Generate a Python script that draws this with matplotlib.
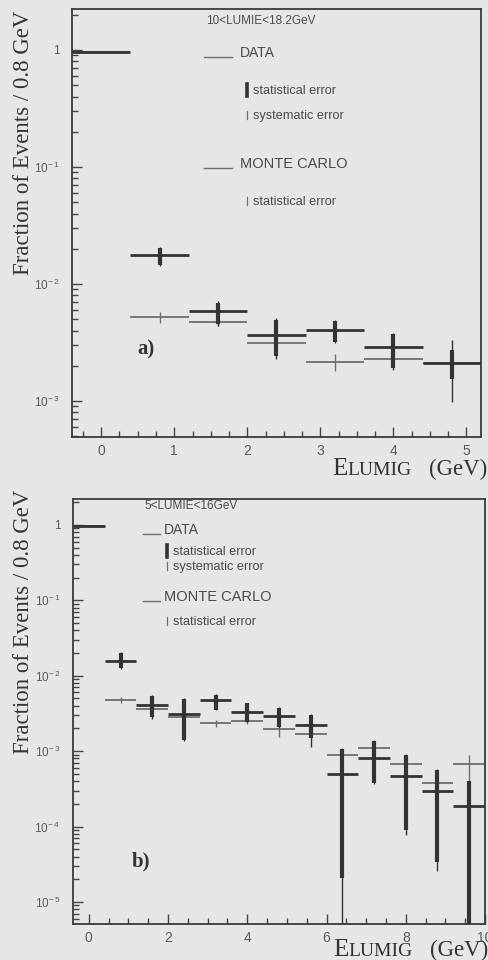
import matplotlib
matplotlib.use("Agg")
import matplotlib.pyplot as plt
import numpy as np
from matplotlib.lines import Line2D
from matplotlib.offsetbox import TextArea, HPacker, AnchoredOffsetbox
from matplotlib.ticker import FixedLocator, FixedFormatter, LogLocator, MultipleLocator, NullFormatter

plt.rcParams['mathtext.fontset'] = 'custom'
plt.rcParams['mathtext.rm'] = 'Liberation Sans'
plt.rcParams['mathtext.it'] = 'Liberation Sans'
plt.rcParams['mathtext.default'] = 'rm'

# ---------------- data ----------------
BIN_W = 0.8

# panel a) 10 < LUMIE < 18.2 GeV
centers_a = [0.0, 0.8, 1.6, 2.4, 3.2, 4.0, 4.8]
data_a    = [0.97, 1.77e-2, 5.9e-3, 3.66e-3, 4.05e-3, 2.9e-3, 2.1e-3]
stat_lo_a = [0.96, 1.45e-2, 4.55e-3, 2.4e-3, 3.2e-3, 1.9e-3, 1.53e-3]
stat_hi_a = [0.98, 2.03e-2, 6.9e-3, 4.9e-3, 4.8e-3, 3.7e-3, 2.73e-3]
sys_lo_a  = [0.96, 1.42e-2, 4.4e-3, 2.3e-3, 3.1e-3, 1.85e-3, 0.98e-3]
sys_hi_a  = [0.98, 2.08e-2, 7.1e-3, 5.1e-3, 4.9e-3, 3.8e-3, 3.3e-3]
mc_a      = [0.955, 5.2e-3, 4.7e-3, 3.13e-3, 2.15e-3, 2.28e-3, 2.1e-3]
mc_lo_a   = [0.95, 4.65e-3, 4.4e-3, 2.9e-3, 1.8e-3, 2.05e-3, 1.9e-3]
mc_hi_a   = [0.96, 5.8e-3, 5.0e-3, 3.4e-3, 2.5e-3, 2.5e-3, 2.3e-3]

# panel b) 5 < LUMIE < 16 GeV
centers_b = [0.0, 0.8, 1.6, 2.4, 3.2, 4.0, 4.8, 5.6, 6.4, 7.2, 8.0, 8.8, 9.6]
data_b    = [0.97, 1.58e-2, 4.1e-3, 3.1e-3, 4.7e-3, 3.3e-3, 2.95e-3, 2.2e-3,
             5.0e-4, 8.2e-4, 4.7e-4, 2.95e-4, 1.87e-4]
stat_lo_b = [0.96, 1.26e-2, 2.8e-3, 1.4e-3, 3.55e-3, 2.45e-3, 2.1e-3, 1.5e-3,
             2.1e-5, 3.8e-4, 8.9e-5, 3.4e-5, 1e-7]
stat_hi_b = [0.98, 2.0e-2, 5.4e-3, 4.9e-3, 5.6e-3, 4.3e-3, 3.7e-3, 3.0e-3,
             1.07e-3, 1.35e-3, 8.9e-4, 5.6e-4, 4.0e-4]
sys_lo_b  = [0.96, 1.24e-2, 2.7e-3, 1.35e-3, 3.5e-3, 2.4e-3, 2.05e-3, 1.15e-3,
             1e-7, 3.7e-4, 7.8e-5, 2.6e-5, 1e-7]
sys_hi_b  = [0.98, 2.05e-2, 5.5e-3, 5.0e-3, 5.7e-3, 4.4e-3, 3.8e-3, 3.1e-3,
             1.1e-3, 1.4e-3, 9.2e-4, 5.8e-4, 4.0e-4]
mc_b      = [0.955, 4.8e-3, 3.6e-3, 2.8e-3, 2.35e-3, 2.54e-3, 1.96e-3, 1.7e-3,
             8.9e-4, 1.11e-3, 6.7e-4, 3.8e-4, 6.7e-4]
mc_lo_b   = [0.95, 4.4e-3, 3.3e-3, 2.55e-3, 2.1e-3, 2.3e-3, 1.55e-3, 1.55e-3,
             8.0e-4, 1.0e-3, 6.0e-4, 3.4e-4, 4.0e-4]
mc_hi_b   = [0.96, 5.2e-3, 3.9e-3, 3.05e-3, 2.6e-3, 2.8e-3, 2.2e-3, 1.85e-3,
             9.8e-4, 1.22e-3, 7.4e-4, 4.2e-4, 8.9e-4]

# ---------------- style ----------------
W, H = 489, 960
BG = '#e5e6e7'
INK = '#333333'
MC_INK = '#6e6e6e'
LEG_INK = '#4a4a4a'
TICK_INK = '#5a5a5a'
SERIF = 'Liberation Serif'
SANS = 'Liberation Sans'

fig = plt.figure(figsize=(W / 100, H / 100), dpi=100, facecolor=BG)


def fx(x):
    return x / W


def fy(y):
    return 1 - y / H


def axes_px(left, top, right, bottom):
    return fig.add_axes([fx(left), fy(bottom), (right - left) / W, (bottom - top) / H])


def draw_panel(ax, centers, data, slo, shi, ylo, yhi, mc, mlo, mhi):
    c = np.asarray(centers)
    ax.hlines(mc, c - BIN_W / 2, c + BIN_W / 2, color=MC_INK, lw=1.3, zorder=2)
    ax.vlines(c, mlo, mhi, color=MC_INK, lw=1.0, zorder=2)
    ax.hlines(data, c - BIN_W / 2, c + BIN_W / 2, color=INK, lw=2.0, zorder=3)
    ax.vlines(c, ylo, yhi, color=INK, lw=1.0, zorder=3)
    ax.vlines(c, slo, shi, color=INK, lw=3.0, zorder=4)


def style_axes(ax, xlim, ylim, xmajor, xminor, decades):
    ax.set_facecolor(BG)
    ax.set_xlim(*xlim)
    ax.set_yscale('log')
    ax.set_ylim(*ylim)
    for s in ax.spines.values():
        s.set_color('#3a3a3a')
        s.set_linewidth(1.3)
    ax.xaxis.set_major_locator(MultipleLocator(xmajor))
    ax.xaxis.set_minor_locator(MultipleLocator(xminor))
    ax.yaxis.set_major_locator(FixedLocator([10.0 ** d for d in decades]))
    ax.yaxis.set_major_formatter(FixedFormatter(
        ['1' if d == 0 else r'$10^{\!%d}$' % d for d in decades]))
    ax.yaxis.set_minor_locator(LogLocator(base=10, subs=np.arange(2, 10)))
    ax.yaxis.set_minor_formatter(NullFormatter())
    ax.tick_params(which='both', direction='in', top=False, right=False,
                   color='#444444', width=1.0, labelcolor=TICK_INK)
    ax.tick_params(which='major', length=7)
    ax.tick_params(which='minor', length=4)
    ax.tick_params(axis='x', pad=5, labelsize=10)
    ax.tick_params(axis='y', pad=9, labelsize=8.5)
    for lab in ax.get_xticklabels() + ax.get_yticklabels():
        lab.set_family(SANS)


def xlabel_at(xr, yc):
    fs = dict(family=SERIF, color=INK)
    e = TextArea('E', textprops=dict(fontsize=18, **fs))
    lum = TextArea('LUMIG', textprops=dict(fontsize=14, **fs))
    gev = TextArea('(GeV)', textprops=dict(fontsize=16.5, **fs))
    inner = HPacker(children=[e, lum], align='baseline', pad=0, sep=0)
    box = HPacker(children=[inner, gev], align='baseline', pad=0, sep=12)
    anc = AnchoredOffsetbox(loc='center right', child=box, pad=0, borderpad=0,
                            frameon=False, bbox_to_anchor=(fx(xr), fy(yc)),
                            bbox_transform=fig.transFigure)
    fig.add_artist(anc)


def legend_block(title, title_xy, x_line, x_text, x_bar, rows_y):
    tx, ty = title_xy
    fig.text(fx(tx), fy(ty), title, family=SANS, fontsize=8.5, color=LEG_INK,
             ha='center', va='center')
    y_data, y_stat, y_sys, y_mc, y_mcstat = rows_y
    fig.add_artist(Line2D([fx(x_line[0]), fx(x_line[1])], [fy(y_data + 4)] * 2,
                          color=MC_INK, lw=1.0))
    fig.text(fx(x_text), fy(y_data), 'DATA', family=SANS, fontsize=10,
             color=LEG_INK, ha='left', va='center')
    fig.add_artist(Line2D([fx(x_bar)] * 2, [fy(y_stat - 7), fy(y_stat + 5)],
                          color=INK, lw=2.6))
    fig.text(fx(x_bar + 6), fy(y_stat), 'statistical error', family=SANS,
             fontsize=9.2, color=LEG_INK, ha='left', va='center')
    fig.add_artist(Line2D([fx(x_bar)] * 2, [fy(y_sys - 5), fy(y_sys + 3)],
                          color=MC_INK, lw=0.9))
    fig.text(fx(x_bar + 6), fy(y_sys), 'systematic error', family=SANS,
             fontsize=9.2, color=LEG_INK, ha='left', va='center')
    fig.add_artist(Line2D([fx(x_line[0]), fx(x_line[1])], [fy(y_mc + 4)] * 2,
                          color=MC_INK, lw=1.0))
    fig.text(fx(x_text), fy(y_mc), 'MONTE CARLO', family=SANS, fontsize=10.5,
             color=LEG_INK, ha='left', va='center')
    fig.add_artist(Line2D([fx(x_bar)] * 2, [fy(y_mcstat - 5), fy(y_mcstat + 3)],
                          color=MC_INK, lw=0.9))
    fig.text(fx(x_bar + 6), fy(y_mcstat), 'statistical error', family=SANS,
             fontsize=9.2, color=LEG_INK, ha='left', va='center')


# ---------------- panel a ----------------
ax_a = axes_px(72, 9, 481, 437)
draw_panel(ax_a, centers_a, data_a, stat_lo_a, stat_hi_a, sys_lo_a, sys_hi_a,
           mc_a, mc_lo_a, mc_hi_a)
style_axes(ax_a, (-0.4, 5.2), (4.92e-4, 2.24), 1, 0.25, [0, -1, -2, -3])
ax_a.text(0.18, 0.205, 'a)', transform=ax_a.transAxes, family=SERIF,
          fontsize=15, fontweight='bold', color=INK, ha='center', va='center')
fig.text(fx(24), fy(143), 'Fraction of Events / 0.8 GeV', rotation=90,
         family=SERIF, fontsize=16.5, color=INK, ha='center', va='center')
xlabel_at(487, 469)
legend_block('10<LUMIE<18.2GeV', (261, 21), (204, 232), 240, 247,
             (53, 91, 116, 164, 202))

# ---------------- panel b ----------------
ax_b = axes_px(73, 499, 485, 924)
draw_panel(ax_b, centers_b, data_b, stat_lo_b, stat_hi_b, sys_lo_b, sys_hi_b,
           mc_b, mc_lo_b, mc_hi_b)
style_axes(ax_b, (-0.4, 10.0), (5.1e-6, 2.21), 2, 0.5, [0, -1, -2, -3, -4, -5])
ax_b.text(0.165, 0.148, 'b)', transform=ax_b.transAxes, family=SERIF,
          fontsize=15, fontweight='bold', color=INK, ha='center', va='center')
fig.text(fx(24), fy(622), 'Fraction of Events / 0.8 GeV', rotation=90,
         family=SERIF, fontsize=16.5, color=INK, ha='center', va='center')
xlabel_at(488, 950)
legend_block('5<LUMIE<16GeV', (191, 506), (143, 160), 164, 167,
             (530, 552, 567, 597, 622))

fig.savefig('out.png', dpi=100, facecolor=BG)
